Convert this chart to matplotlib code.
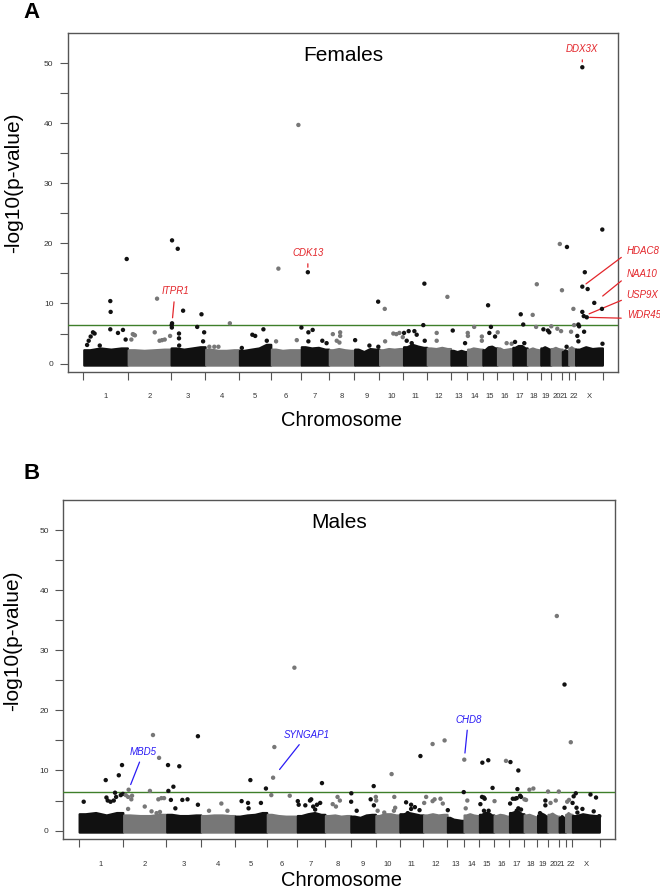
import numpy as np
import matplotlib
matplotlib.use('Agg')
import matplotlib.pyplot as plt

plt.rcParams['font.family'] = ['Liberation Sans', 'DejaVu Sans']

chroms = [str(i) for i in range(1, 23)] + ['X']
chrom_len = [249, 241, 194, 189, 179, 168, 157, 142, 140, 134, 133, 133,
             93, 86, 82, 86, 82, 75, 58, 63, 36, 37, 153]  # Mb
threshold = 6.45

# top edge of the dense cloud near zero, 4 readings along each chromosome
band_f = [[2.3, 2.6, 2.4, 2.6], [2.3, 2.2, 2.3, 2.4], [2.6, 2.4, 2.6, 2.8], [2.4, 2.2, 2.2, 2.3],
          [2.2, 2.4, 2.6, 3.2], [2.4, 2.2, 2.3, 2.3], [2.8, 2.6, 2.7, 2.4], [2.3, 2.5, 2.3, 2.2],
          [2.4, 2.0, 2.5, 2.4], [2.3, 2.5, 2.4, 2.5], [2.8, 3.2, 2.9, 2.7], [2.6, 2.5, 2.7, 2.5],
          [2.2, 2.0, 2.2, 2.0], [2.4, 2.6, 2.5, 2.4], [2.3, 2.8, 2.9, 2.6], [2.6, 2.3, 2.4, 2.5],
          [2.7, 3.0, 3.0, 2.6], [2.4, 2.6, 2.4, 2.3], [2.6, 2.8, 2.6, 2.4], [2.5, 2.7, 2.5, 2.4],
          [2.0, 2.3, 2.2, 2.0], [2.6, 2.8, 2.6, 2.5], [2.4, 2.8, 2.5, 2.6]]
band_m = [[2.8, 3.0, 2.6, 3.0], [2.6, 2.5, 2.5, 2.7], [2.7, 2.5, 2.5, 2.6], [2.5, 2.6, 2.6, 2.5],
          [2.4, 2.6, 2.7, 3.0], [2.7, 2.5, 2.4, 2.4], [2.5, 2.8, 3.0, 2.7], [2.5, 2.6, 2.4, 2.5],
          [2.4, 2.2, 2.6, 2.7], [2.5, 2.8, 2.8, 2.6], [2.8, 3.0, 2.8, 2.6], [2.6, 2.8, 2.6, 2.7],
          [2.2, 1.9, 1.8, 1.7], [2.6, 2.8, 2.6, 2.5], [2.7, 3.0, 3.0, 2.6], [2.5, 2.7, 2.6, 2.4],
          [3.0, 3.2, 3.2, 2.8], [2.6, 2.7, 2.5, 2.3], [2.6, 2.9, 2.7, 2.4], [2.7, 2.9, 2.6, 2.4],
          [2.2, 2.5, 2.3, 2.0], [2.7, 3.0, 2.8, 2.7], [2.5, 2.8, 2.6, 2.5]]

# points above the cloud: (chromosome 1-23, position Mb, -log10 p)
hits_f = [
    (1, 21, 3.1), (1, 30, 3.8), (1, 41, 4.5), (1, 54, 5.2), (1, 63, 5.0), (1, 92, 3.0), (1, 151, 10.4),
    (1, 153, 8.6), (1, 151, 5.7), (1, 194, 5.1), (1, 222, 5.6), (1, 237, 4.0), (1, 243, 17.4),
    (2, 20, 4.0), (2, 28, 4.9), (2, 34, 4.8), (2, 40, 4.7), (2, 151, 5.2), (2, 164, 10.8), (2, 178, 3.8),
    (2, 192, 3.9), (2, 207, 4.0), (2, 237, 4.6),
    (3, 7, 6.7), (3, 5, 6.4), (3, 6, 6.0), (3, 7, 20.5), (3, 39, 19.1), (3, 46, 5.0), (3, 46, 4.2),
    (3, 47, 3.0), (3, 69, 8.8), (3, 148, 6.1), (3, 172, 8.2), (3, 181, 3.7), (3, 187, 5.2),
    (4, 22, 2.8), (4, 50, 2.8), (4, 73, 2.8), (4, 137, 6.7),
    (5, 15, 2.6), (5, 74, 4.8), (5, 90, 4.6), (5, 136, 5.7), (5, 155, 3.8),
    (6, 28, 3.7), (6, 41, 15.8), (6, 144, 3.9), (6, 153, 39.7),
    (7, 2, 6.0), (7, 38, 15.2), (7, 41, 5.2), (7, 41, 3.7), (7, 65, 5.6), (7, 119, 3.8), (7, 143, 3.4),
    (8, 21, 4.9), (8, 43, 3.8), (8, 58, 3.5), (8, 62, 5.2), (8, 62, 4.6),
    (9, 4, 3.9), (9, 84, 3.0), (9, 133, 10.3), (9, 134, 2.8),
    (10, 30, 9.1), (10, 32, 3.7), (10, 78, 5.0), (10, 95, 4.9), (10, 112, 5.1), (10, 131, 4.4),
    (11, 4, 5.1), (11, 19, 3.8), (11, 30, 5.4), (11, 47, 3.4), (11, 62, 5.4), (11, 75, 4.8),
    (11, 112, 6.4), (11, 118, 13.3), (11, 120, 3.8),
    (12, 54, 5.1), (12, 54, 3.8), (12, 114, 11.1),
    (13, 11, 5.5), (13, 80, 3.4),
    (14, 2, 5.1), (14, 3, 4.6), (14, 38, 6.1), (14, 81, 4.5), (14, 81, 3.8),
    (15, 30, 9.7), (15, 37, 5.1), (15, 46, 6.1), (15, 69, 4.5),
    (16, 2, 5.2), (16, 52, 3.4), (16, 80, 3.3),
    (17, 13, 3.6), (17, 45, 8.2), (17, 59, 6.5), (17, 65, 3.4),
    (18, 30, 8.1), (18, 49, 6.1), (18, 53, 13.2),
    (19, 15, 5.7), (19, 40, 5.5), (19, 48, 5.2),
    (20, 1, 6.2), (20, 35, 5.8), (20, 49, 19.9), (20, 56, 5.4), (20, 61, 12.2),
    (21, 24, 2.8), (21, 26, 19.4),
    (22, 13, 5.3), (22, 26, 9.1), (22, 30, 6.4),
    (23, 11, 4.6), (23, 17, 3.7), (23, 17, 6.5), (23, 21, 6.2), (23, 39, 49.3), (23, 39, 12.8),
    (23, 39, 8.6), (23, 47, 7.9), (23, 49, 5.3), (23, 53, 15.2), (23, 64, 7.7), (23, 69, 12.4),
    (23, 106, 10.1), (23, 149, 9.1), (23, 151, 22.3), (23, 152, 3.3),
]
hits_m = [
    (1, 28, 4.8), (1, 151, 8.4), (1, 155, 5.5), (1, 162, 5.0), (1, 178, 4.8), (1, 196, 5.0), (1, 203, 6.3),
    (1, 209, 5.6), (1, 224, 9.2), (1, 235, 5.9), (1, 242, 10.9), (1, 247, 6.1),
    (2, 14, 5.9), (2, 27, 5.6), (2, 27, 3.6), (2, 30, 6.8), (2, 45, 5.2), (2, 49, 5.8), (2, 120, 4.0),
    (2, 149, 6.6), (2, 158, 3.2), (2, 166, 15.9), (2, 186, 2.9), (2, 196, 5.2), (2, 200, 12.1),
    (2, 205, 3.1), (2, 213, 5.4), (2, 228, 5.4),
    (3, 9, 10.9), (3, 11, 6.6), (3, 25, 5.1), (3, 39, 7.3), (3, 50, 3.7), (3, 72, 10.7), (3, 89, 5.1),
    (3, 118, 5.2), (3, 176, 15.7), (3, 176, 4.3),
    (4, 44, 3.3), (4, 113, 4.5), (4, 147, 3.3),
    (5, 37, 4.9), (5, 73, 4.6), (5, 76, 3.7), (5, 86, 8.4), (5, 145, 4.6), (5, 173, 7.0),
    (6, 24, 5.9), (6, 34, 8.8), (6, 41, 13.9), (6, 127, 5.8), (6, 153, 27.1),
    (7, 4, 4.9), (7, 9, 4.3), (7, 46, 4.2), (7, 72, 5.0), (7, 79, 5.2), (7, 90, 4.0), (7, 101, 3.5),
    (7, 111, 4.3), (7, 129, 4.6), (7, 139, 7.9),
    (8, 42, 4.4), (8, 60, 4.0), (8, 69, 5.6), (8, 82, 5.0),
    (9, 3, 4.8), (9, 4, 6.2), (9, 34, 3.3), (9, 112, 5.2), (9, 129, 7.4), (9, 130, 4.2),
    (10, 1, 5.6), (10, 3, 5.0), (10, 11, 3.3), (10, 48, 3.0), (10, 89, 9.4), (10, 102, 3.3),
    (10, 104, 5.6), (10, 109, 3.8),
    (11, 36, 4.7), (11, 45, 2.9), (11, 64, 4.3), (11, 64, 3.6), (11, 85, 3.9), (11, 111, 3.4),
    (11, 116, 12.4),
    (12, 4, 4.6), (12, 15, 5.6), (12, 51, 14.4), (12, 51, 4.9), (12, 62, 5.2), (12, 95, 5.3),
    (12, 108, 4.5), (12, 118, 15.0),
    (13, 3, 3.4), (13, 92, 6.4),
    (14, 2, 11.8), (14, 10, 3.7), (14, 19, 5.0),
    (15, 6, 4.4), (15, 15, 5.6), (15, 17, 11.3), (15, 25, 5.5), (15, 26, 3.3), (15, 30, 5.3),
    (15, 50, 11.7), (15, 52, 3.3), (15, 74, 7.1),
    (16, 3, 4.9), (16, 67, 11.6),
    (17, 4, 4.5), (17, 6, 11.4), (17, 19, 5.3), (17, 32, 5.3), (17, 41, 5.4), (17, 41, 3.3),
    (17, 45, 6.9), (17, 50, 10.0), (17, 50, 3.7), (17, 60, 5.8), (17, 65, 5.6), (17, 65, 3.5),
    (18, 2, 5.2), (18, 11, 5.1), (18, 30, 6.8), (18, 52, 7.0),
    (19, 14, 2.9), (19, 44, 5.0), (19, 44, 4.2),
    (20, 1, 6.5), (20, 15, 4.6), (20, 44, 5.0), (20, 50, 35.7), (20, 61, 6.5),
    (21, 30, 24.3), (21, 30, 3.8),
    (22, 9, 4.8), (22, 19, 5.1), (22, 29, 14.7),
    (23, 2, 4.6), (23, 8, 5.7), (23, 20, 6.2), (23, 24, 3.8), (23, 29, 3.0), (23, 57, 3.6),
    (23, 102, 6.0), (23, 120, 3.2), (23, 133, 5.5), (23, 151, 2.4),
]

# labelled genes: (gene, chromosome, position Mb, -log10 p)
genes_f = [('ITPR1', 3, 7, 6.7), ('CDK13', 7, 38, 15.2), ('DDX3X', 23, 39, 49.3),
           ('HDAC8', 23, 39, 12.8), ('NAA10', 23, 106, 10.1), ('USP9X', 23, 47, 7.9),
           ('WDR45', 23, 64, 7.7)]
genes_m = [('MBD5', 2, 30, 6.8), ('SYNGAP1', 6, 34, 8.8), ('CHD8', 14, 2, 11.8)]

# label placement (offset in pixels, alignment, gap to point in pt)
label_layout = {
    'ITPR1': ((3, 32), 'center', 4.0), 'CDK13': ((0, 19), 'center', 3.6),
    'DDX3X': ((0, 18), 'center', 3.9), 'HDAC8': ((44, 36), 'left', 3.3),
    'NAA10': ((32, 29), 'left', 7.8), 'USP9X': ((43, 21), 'left', 4.2),
    'WDR45': ((40, 2), 'left', 2.0), 'MBD5': ((15, 38), 'center', 4.0),
    'SYNGAP1': ((34, 43), 'center', 7.5), 'CHD8': ((4, 40), 'center', 4.8),
}
# the 21 and 22 labels sit nearly on top of each other; spread them a little
chrom_label_nudge = {'21': -1.6, '22': 1.6}

dark = '#111111'
grey = '#777777'
offsets = np.concatenate([[0], np.cumsum(chrom_len)[:-1]])
total = sum(chrom_len)
bounds = np.append(offsets, total)
mids = offsets + np.array(chrom_len) / 2.0


def draw_panel(ax, band, hits, genes, title, lab_col):
    fr = np.array([0.01, 0.15, 0.38, 0.62, 0.85, 0.99])
    for i, L in enumerate(chrom_len):
        col = dark if i % 2 == 0 else grey
        h = band[i]
        ax.fill_between(offsets[i] + fr * L, -0.25, [h[0], h[0], h[1], h[2], h[3], h[3]],
                        facecolor=col, edgecolor=col, lw=1.6, joinstyle='round', zorder=2)
    hits = np.array(hits)
    ci = hits[:, 0].astype(int) - 1
    x = offsets[ci] + hits[:, 1]
    cols = [dark if c % 2 == 0 else grey for c in ci]
    ax.axhline(threshold, color='#3f7f2a', lw=1.0, zorder=3)
    ax.scatter(x, hits[:, 2], s=10, c=cols, lw=0, zorder=4)

    for g, c, p, v in genes:
        (dx, dy), ha, sb = label_layout[g]
        relpos = (0, 0.2) if ha == 'left' else (0.5, 0.5)
        ax.annotate(g, xy=(offsets[c - 1] + p, v), xytext=(dx, dy), textcoords='offset pixels',
                    ha=ha, va='center', fontsize=7, style='italic', color=lab_col,
                    annotation_clip=False,
                    arrowprops=dict(arrowstyle='-', color=lab_col, lw=0.9,
                                    shrinkA=2, shrinkB=sb, relpos=relpos))

    ax.set_xlim(-86, total + 86)
    ax.set_ylim(-1.4, 55)
    yt = np.arange(0, 55, 5)
    ax.set_yticks(yt)
    ax.set_yticklabels([str(v) if v % 10 == 0 else '' for v in yt])
    ax.tick_params(axis='y', length=5.5, width=0.8, color='#555555', labelsize=6,
                   labelcolor='#333333', pad=5)
    ax.set_xticks(bounds)
    ax.set_xticklabels([])
    ax.tick_params(axis='x', which='major', length=5.5, width=0.8, color='#555555')
    for name, m in zip(chroms, mids):
        ax.annotate(name, xy=(m, 0), xycoords=('data', 'axes fraction'),
                    xytext=(chrom_label_nudge.get(name, 0), -25), textcoords='offset pixels',
                    ha='center', va='center', fontsize=5.5, color='#333333', annotation_clip=False)
    for sp in ax.spines.values():
        sp.set_color('#555555')
        sp.set_linewidth(1.0)
    ax.text(0.5, 0.935, title, transform=ax.transAxes, ha='center', va='center', fontsize=15)


W, H = 660, 889
fig = plt.figure(figsize=(W / 100, H / 100), dpi=100)
ax1 = fig.add_axes([68 / W, 1 - 372 / H, 550 / W, 339 / H])
ax2 = fig.add_axes([63.3 / W, 1 - 839 / H, 551.7 / W, 339 / H])

draw_panel(ax1, band_f, hits_f, genes_f, 'Females', '#e3262b')
draw_panel(ax2, band_m, hits_m, genes_m, 'Males', '#2b1cf5')

fig.text(31.5 / W, 1 - 13 / H, 'A', ha='center', va='center', fontsize=16, weight='bold')
fig.text(31.5 / W, 1 - 473.5 / H, 'B', ha='center', va='center', fontsize=16, weight='bold')
fig.text(14 / W, 1 - 183 / H, '-log10(p-value)', rotation=90, ha='center', va='center', fontsize=15)
fig.text(13 / W, 1 - 641 / H, '-log10(p-value)', rotation=90, ha='center', va='center', fontsize=15)
fig.text(342 / W, 1 - 421 / H, 'Chromosome', ha='center', va='center', fontsize=14.5)
fig.text(342 / W, 1 - 880 / H, 'Chromosome', ha='center', va='center', fontsize=14.5)

fig.savefig('out.png', dpi=100)
